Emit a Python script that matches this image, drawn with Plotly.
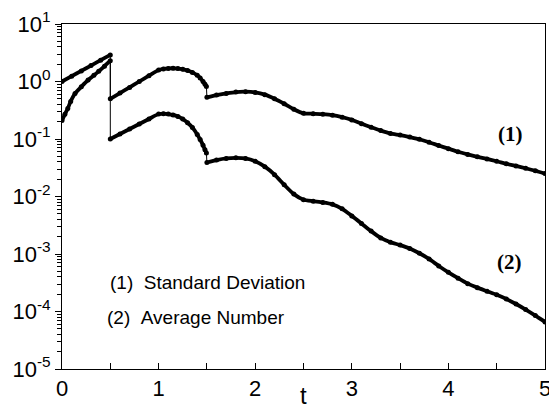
import plotly.graph_objects as go

# ---- data: standard deviation (1) and average number (2) versus t ----
# each curve is made of three pieces separated by the jumps at t = 0.5 and t = 1.5

t_a1 = [0.0, 0.1, 0.2, 0.3, 0.4, 0.5]
sd_a = [1.0, 1.24, 1.53, 1.89, 2.35, 2.9]

t_b = [0.5, 0.6, 0.7, 0.8, 0.9, 1.0, 1.05, 1.1, 1.15, 1.2, 1.25, 1.3, 1.35, 1.4,
       1.43, 1.46, 1.48, 1.495]
sd_b = [0.50, 0.63, 0.79, 1.0, 1.26, 1.58, 1.65, 1.69, 1.70, 1.68, 1.63, 1.55, 1.44,
        1.28, 1.15, 1.0, 0.9, 0.82]

t_c = [1.5, 1.6, 1.7, 1.8, 1.9, 2.0, 2.1, 2.2, 2.3, 2.4, 2.5, 2.6, 2.7, 2.8, 2.9,
       3.0, 3.1, 3.2, 3.3, 3.4, 3.5, 3.6, 3.7, 3.8, 3.9, 4.0, 4.1, 4.2, 4.3, 4.4,
       4.5, 4.6, 4.7, 4.8, 4.9, 5.0]
sd_c = [0.53, 0.58, 0.62, 0.655, 0.665, 0.645, 0.59, 0.50, 0.41, 0.33, 0.28, 0.275,
        0.27, 0.26, 0.24, 0.215, 0.185, 0.16, 0.14, 0.125, 0.117, 0.108, 0.099,
        0.088, 0.077, 0.068, 0.06, 0.054, 0.049, 0.045, 0.041, 0.037, 0.034, 0.031,
        0.028, 0.025]

t_a2 = [0.0, 0.03, 0.06, 0.09, 0.135, 0.2, 0.27, 0.33, 0.38, 0.44, 0.5]
avg_a = [0.21, 0.27, 0.34, 0.45, 0.62, 0.81, 1.06, 1.28, 1.5, 1.85, 2.3]

avg_b = [0.10, 0.122, 0.149, 0.182, 0.223, 0.272, 0.276, 0.272, 0.262, 0.246, 0.222,
         0.192, 0.158, 0.12, 0.098, 0.078, 0.065, 0.057]

avg_c = [0.039, 0.043, 0.046, 0.047, 0.046, 0.041, 0.033, 0.024, 0.016, 0.011, 0.0088,
         0.0083, 0.0079, 0.0073, 0.0061, 0.0046, 0.0034, 0.0025, 0.0019, 0.0016,
         0.00143, 0.00125, 0.00103, 0.00082, 0.00062, 0.00048, 0.00038, 0.000305,
         0.00026, 0.000225, 0.000195, 0.000165, 0.000135, 0.000108, 0.000085, 0.000066]

y_tickvals = [1e-5, 1e-4, 1e-3, 1e-2, 1e-1, 1e0, 1e1]
y_ticktext = ["10<sup>-5</sup>", "10<sup>-4</sup>", "10<sup>-3</sup>", "10<sup>-2</sup>",
              "10<sup>-1</sup>", "10<sup>0</sup>", "10<sup>1</sup>"]
x_tickvals = [0, 1, 2, 3, 4, 5]

SANS = "Liberation Sans, Arial, Helvetica, sans-serif"
SERIF = "Liberation Serif, Times New Roman, serif"

fig = go.Figure()

curves = [
    [(t_a1, sd_a), (t_b, sd_b), (t_c, sd_c)],
    [(t_a2, avg_a), (t_b, avg_b), (t_c, avg_c)],
]

for pieces in curves:
    # thin vertical connectors across the jumps
    for (ta, ya), (tb, yb) in zip(pieces[:-1], pieces[1:]):
        fig.add_trace(go.Scatter(
            x=[ta[-1], tb[0]], y=[ya[-1], yb[0]], mode="lines",
            line=dict(color="black", width=1), hoverinfo="skip", showlegend=False))
    # thick dotted pieces
    for tt, yy in pieces:
        fig.add_trace(go.Scatter(
            x=tt, y=yy, mode="lines+markers",
            line=dict(color="black", width=3.8, shape="spline", smoothing=0.6),
            marker=dict(color="black", size=5),
            showlegend=False))

axis_common = dict(showline=True, linecolor="black", linewidth=1, mirror=True,
                   showgrid=False, zeroline=False, automargin=False,
                   tickfont=dict(family=SANS, size=22, color="black"),
                   tickcolor="black", ticklabeloverflow="allow")

fig.update_xaxes(range=[0, 5], tickvals=x_tickvals, ticks="inside", ticklen=6,
                 minor=dict(dtick=0.5, ticks="inside", ticklen=6, tickcolor="black"),
                 **axis_common)
fig.update_yaxes(type="log", range=[-5, 1], tickvals=y_tickvals, ticktext=y_ticktext,
                 ticks="outside", ticklen=6,
                 minor=dict(dtick="D1", ticks="outside", ticklen=4, tickcolor="black"),
                 **axis_common)

annotations = [
    dict(x=2.5, y=-0.1217, xref="x", yref="paper", text="t", showarrow=False,
         font=dict(family=SANS, size=24, color="black"), yanchor="bottom"),
    dict(x=4.64, y=-0.913, xref="x", yref="y", text="<b>(1)</b>", showarrow=False,
         font=dict(family=SERIF, size=21, color="black")),
    dict(x=4.63, y=-3.14, xref="x", yref="y", text="<b>(2)</b>", showarrow=False,
         font=dict(family=SERIF, size=21, color="black")),
    dict(x=0.476, y=-3.49, xref="x", yref="y", xanchor="left",
         text="(1)\u00a0\u00a0Standard Deviation", showarrow=False,
         font=dict(family=SANS, size=19, color="black")),
    dict(x=0.445, y=-4.11, xref="x", yref="y", xanchor="left",
         text="(2)\u00a0\u00a0Average Number", showarrow=False,
         font=dict(family=SANS, size=19, color="black")),
]

fig.update_layout(width=549, height=411,
                  margin=dict(l=62, r=4, t=24, b=42),
                  paper_bgcolor="white", plot_bgcolor="white",
                  annotations=annotations, showlegend=False)

fig.write_html("out.html")
